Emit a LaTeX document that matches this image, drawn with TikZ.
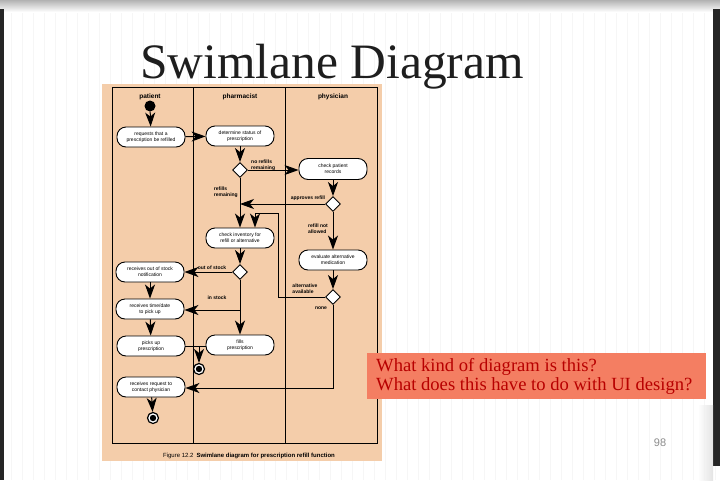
\documentclass[tikz,border=0pt]{standalone}
\usepackage{fontspec}
\setmainfont{Liberation Serif}
\setsansfont{Liberation Sans}
\usetikzlibrary{arrows.meta,shapes.geometric}
\definecolor{tan}{HTML}{F4CDAA}
\definecolor{callout}{HTML}{F47E62}
\definecolor{callouttext}{HTML}{B80000}
\definecolor{gridc}{HTML}{F6F6F6}
\definecolor{titlec}{HTML}{1E1E1E}
\definecolor{pagec}{HTML}{8C8C8C}
\tikzset{
  act/.style={draw, line width=0.9pt, fill=white, rounded corners=9pt,
    minimum width=68pt, minimum height=20pt, inner sep=1pt, align=center,
    font=\sffamily\fontsize{5}{6}\selectfont},
  dec/.style={draw, line width=0.9pt, diamond, fill=white, minimum width=15pt,
    minimum height=15pt, inner sep=0pt},
  ar/.style={line width=1pt, -{Stealth[length=14pt,width=10pt,inset=4pt]}},
  ln/.style={line width=1pt},
  lbl/.style={font=\sffamily\bfseries\fontsize{5}{6}\selectfont, align=left, inner sep=0pt},
  lane/.style={font=\sffamily\bfseries\fontsize{6.5}{7}\selectfont},
}
\begin{document}
\begin{tikzpicture}[x=1pt,y=-1pt]
\useasboundingbox (0,0) rectangle (720,480);
% slide background
\fill[white] (0,0) rectangle (720,480);
\draw[gridc, line width=0.3pt, step=11] (0,0) grid (720,480);
\shade[top color=black!30, bottom color=white] (0,0) rectangle (720,12);
\fill[black!85] (0,9) rectangle (4,480);
\fill[black!85] (713,9) rectangle (720,466);
\shade[left color=white, right color=black!15, opacity=0.7] (698,405) rectangle (713,480);
% title
\node[anchor=base west, inner sep=0pt, text=titlec, font=\fontsize{49.5}{50}\selectfont] (title) at (140,78) {Swimlane Diagram};
% picture background
\fill[tan] (102,84) rectangle (382,461);
\draw[line width=1pt] (112,87) rectangle (377,443);
\draw[line width=1pt] (193,87) -- (193,443);
\draw[line width=1pt] (285,87) -- (285,443);
\node[lane] (lp) at (150,97) {patient};
\node[lane] (lph) at (240,97) {pharmacist};
\node[lane] (lpy) at (333,97) {physician};
% nodes
\node[circle, fill=black, minimum size=11pt, inner sep=0pt] (start) at (150,106) {};
\node[act] (a1) at (151,137) {requests that a\\prescription be refilled};
\node[act] (a2) at (240,136) {determine status of\\prescription};
\node[dec] (d1) at (240,170) {};
\node[act, minimum height=21pt] (a3) at (333,169) {check patient\\records};
\node[dec] (d2) at (333,204) {};
\node[act] (a4) at (240,238) {check inventory for\\refill or alternative};
\node[act] (a5) at (333,260) {evaluate alternative\\medication};
\node[dec] (d3) at (333,297) {};
\node[dec] (d4) at (240,272) {};
\node[act] (a6) at (150,272) {receives out of stock\\notification};
\node[act] (a7) at (150,309) {receives time/date\\to pick up};
\node[act] (a8) at (240,345) {fills\\prescription};
\node[act] (a9) at (151,346) {picks up\\prescription};
\node[act] (a10) at (151,387) {receives request to\\contact physician};
\node[circle, draw, line width=1.2pt, fill=white, minimum size=11pt, inner sep=0pt] (e1) at (199,369) {};
\fill[black] (e1.center) circle (3.2);
\node[circle, draw, line width=1.2pt, fill=white, minimum size=11pt, inner sep=0pt] (e2) at (153,418) {};
\fill[black] (e2.center) circle (3.2);
\coordinate (m1) at (240,204);
\coordinate (fk) at (240,310);
\coordinate (jn) at (199,346);
\coordinate (c1) at (278,297);
\coordinate (c2) at (278,213);
\coordinate (c3) at (255,213);
\coordinate (c4) at (333,388);
% connectors
\draw[ar] (start) -- (a1);
\draw[ar] (a1) -- (a2);
\draw[ar] (a2) -- (d1);
\draw[ar] (d1.east) -- (d1.east -| a3.west);
\draw[ar] (d1.south) -- (a4.north);
\draw[ar] (a3) -- (d2);
\draw[ar] (d2.west) -- (m1);
\draw[ar] (d2.south) -- (a5.north);
\draw[ar] (a5) -- (d3);
\draw[ar] (d3.west) -- (c1) -- (c2) -- (c3) -- (c3 |- a4.north);
\draw[ar] (a4) -- (d4);
\draw[ar] (d4.west) -- (a6.east);
\draw[ar] (d4.south) -- (a8.north);
\draw[ar] (fk) -- (fk -| a7.east);
\draw[ar] (a6) -- (a7);
\draw[ar] (a7) -- (a9);
\draw[ln] (a9.east |- jn) -- (jn);
\draw[ln] (a8.west |- jn) -- (jn);
\draw[ar] (jn) -- (e1);
\draw[ar] (d3.south) -- (c4) -- (c4 -| a10.east);
\draw[ar] (a10) -- (e2);
% labels
\node[lbl, anchor=south west] (l1) at (251,171) {no refills\\remaining};
\node[lbl, anchor=east] (l2) at (238,192) {refills\\remaining};
\node[lbl] (l3) at (308,198) {approves refill};
\node[lbl] (l4) at (318,229) {refill not\\allowed};
\node[lbl] (l5) at (305,289) {alternative\\available};
\node[lbl] (l6) at (212,268) {out of stock};
\node[lbl] (l7) at (217,298) {in stock};
\node[lbl] (l8) at (321,308) {none};
\node[font=\sffamily\fontsize{6}{7}\selectfont, inner sep=0pt] (cap) at (249,456) {Figure 12.2\enspace\textbf{Swimlane diagram for prescription refill function}};
% callout
\fill[callout] (367,353) rectangle (706,399);
\node[anchor=west, align=left, text=callouttext, inner sep=0pt, font=\fontsize{18.6}{19}\selectfont] (q) at (376,376) {What kind of diagram is this?\\What does this have to do with UI design?};
\node[text=pagec, font=\sffamily\fontsize{11}{12}\selectfont] (pg) at (660,443) {98};
\end{tikzpicture}
\end{document}
